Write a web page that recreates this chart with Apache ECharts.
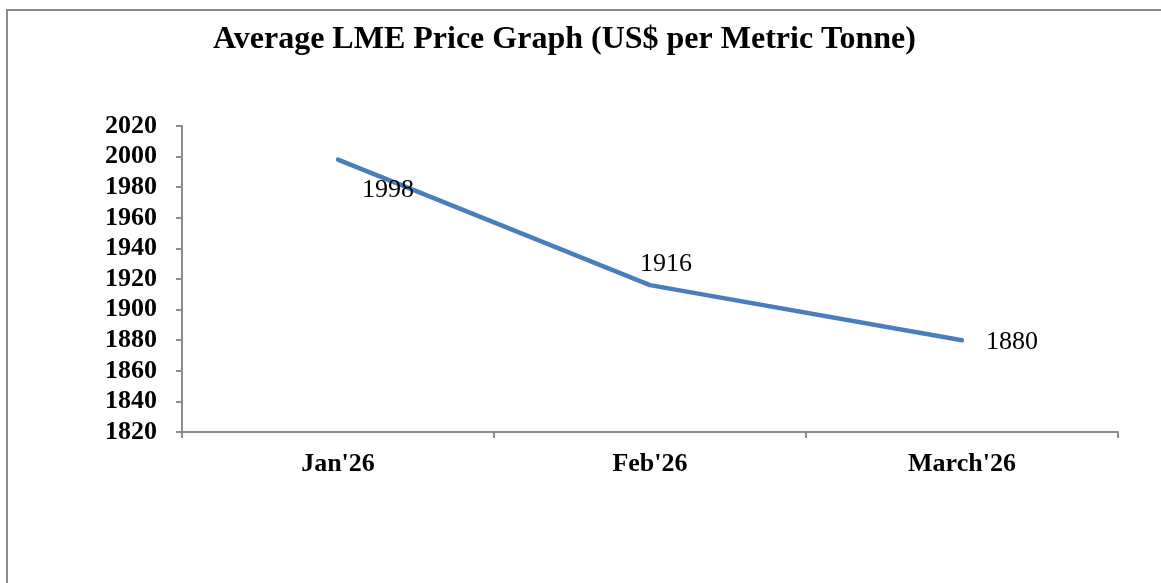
<!DOCTYPE html>
<html>
<head>
<meta charset="utf-8">
<title>Average LME Price Graph</title>
<script src="https://cdn.jsdelivr.net/npm/echarts@6/dist/echarts.min.js"></script>
<style>
  html, body { margin: 0; padding: 0; background: #fff; }
  #chart { width: 1161px; height: 583px; }
</style>
</head>
<body>
<div id="chart"></div>
<script>
// data
var months = ["Jan'26", "Feb'26", "March'26"];
var prices = [1998, 1916, 1880];
// where each value label sits relative to its point
var labelOffsets = [[50, 31], [16, -21], [50, 2]];

var chart = echarts.init(document.getElementById('chart'));

var serif = '"Liberation Serif", "Times New Roman", serif';

chart.setOption({
	backgroundColor: '#fff',
	animation: false,
	title: {
		text: 'Average LME Price Graph (US$ per Metric Tonne)',
		left: 208,
		top: 19,
		textStyle: {
			fontFamily: serif,
			fontWeight: 'bold',
			fontSize: 32,
			color: '#000'
		}
	},
	// outer frame of the chart area
	graphic: [{
		type: 'rect',
		shape: { x: 7, y: 10, width: 1300, height: 700 },
		style: { fill: 'none', stroke: '#8c8c8c', lineWidth: 2 },
		silent: true
	}],
	grid: {
		left: 182,
		right: 43,
		top: 126,
		bottom: 151
	},
	xAxis: {
		type: 'category',
		data: months,
		boundaryGap: true,
		axisLine: { lineStyle: { color: '#8c8c8c', width: 2 } },
		axisTick: { show: true, length: 6, lineStyle: { color: '#8c8c8c', width: 2 } },
		axisLabel: {
			margin: 19,
			fontFamily: serif,
			fontWeight: 'bold',
			fontSize: 26,
			color: '#000'
		}
	},
	yAxis: {
		type: 'value',
		min: 1820,
		max: 2020,
		interval: 20,
		axisLine: { show: true, lineStyle: { color: '#8c8c8c', width: 2 } },
		axisTick: { show: true, length: 6, lineStyle: { color: '#8c8c8c', width: 2 } },
		splitLine: { show: false },
		axisLabel: {
			margin: 25,
			formatter: function (v) { return String(v); },
			fontFamily: serif,
			fontWeight: 'bold',
			fontSize: 26,
			color: '#000'
		}
	},
	series: [{
		type: 'line',
		data: prices.map(function (v, i) {
			return {
				value: v,
				label: { offset: labelOffsets[i] }
			};
		}),
		symbol: 'circle',
		symbolSize: 0.1,
		lineStyle: { color: '#4a7ebb', width: 4.5, cap: 'round', join: 'round' },
		itemStyle: { color: '#4a7ebb' },
		label: {
			show: true,
			position: 'inside',
			fontFamily: serif,
			fontSize: 26,
			color: '#000'
		}
	}]
});
</script>
</body>
</html>
